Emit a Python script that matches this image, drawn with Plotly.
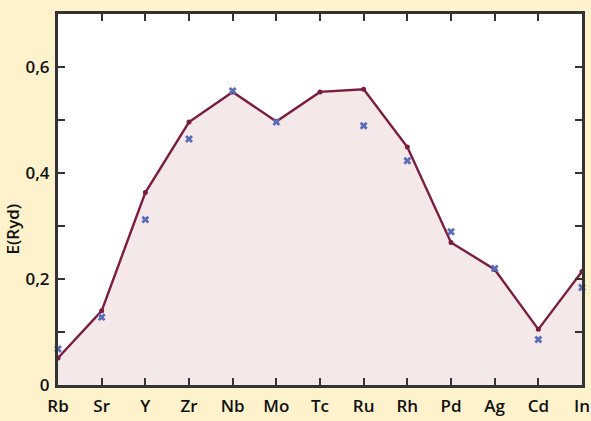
import plotly.graph_objects as go

elements = ["Rb", "Sr", "Y", "Zr", "Nb", "Mo", "Tc", "Ru", "Rh", "Pd", "Ag", "Cd", "In"]
# calculated energies (line)
energy_calc = [0.051, 0.140, 0.363, 0.496, 0.553, 0.497, 0.553, 0.558, 0.449, 0.269, 0.218, 0.105, 0.214]
# experimental energies (crosses); Tc has no measurement
energy_exp = [0.068, 0.128, 0.312, 0.464, 0.555, 0.496, None, 0.489, 0.423, 0.289, 0.220, 0.086, 0.184]

y_tick_vals = [0, 0.1, 0.2, 0.3, 0.4, 0.5, 0.6, 0.7]
y_tick_text = ["0", "", "0,2", "", "0,4", "", "0,6", ""]

xpos = list(range(len(elements)))

fig = go.Figure()
fig.add_trace(go.Scatter(
    x=xpos, y=energy_calc, mode="lines+markers",
    fill="tozeroy", fillcolor="rgba(242,224,226,0.75)",
    line=dict(color="#7b1d3f", width=2.4),
    marker=dict(size=5, color="#7b1d3f"),
    cliponaxis=False, showlegend=False,
))
fig.add_trace(go.Scatter(
    x=xpos, y=energy_exp, mode="markers",
    marker=dict(symbol="x", size=7, color="#5a6cbc",
                line=dict(width=0)),
    cliponaxis=False, showlegend=False,
))

axis_font = dict(family="Open Sans", size=17, color="#111", weight=600)

fig.update_layout(
    width=591, height=421,
    margin=dict(l=58, r=9, t=14, b=36),
    paper_bgcolor="#fdf2cc",
    plot_bgcolor="#ffffff",
    font=axis_font,
    annotations=[dict(
        text="E(Ryd)", textangle=-90, showarrow=False,
        xref="paper", yref="paper", x=-0.087, y=0.42,
        xanchor="center", yanchor="middle",
        font=dict(family="Open Sans", size=17, color="#111", weight=600),
    )],
)
fig.update_xaxes(
    range=[0, 12], tickvals=xpos, ticktext=elements,
    ticks="inside", ticklen=7, tickwidth=2, tickcolor="#333",
    showline=True, linecolor="#333", linewidth=3, mirror="ticks",
    showgrid=False, zeroline=False, tickfont=axis_font,
    ticklabelstandoff=4, automargin=False,
)
fig.update_yaxes(
    range=[0, 0.7], tickvals=y_tick_vals, ticktext=y_tick_text,
    ticks="inside", ticklen=7, tickwidth=2, tickcolor="#333",
    showline=True, linecolor="#333", linewidth=3, mirror="ticks",
    showgrid=False, zeroline=False, tickfont=axis_font,
    ticklabelstandoff=2, automargin=False,
)

fig.write_html("out.html")
